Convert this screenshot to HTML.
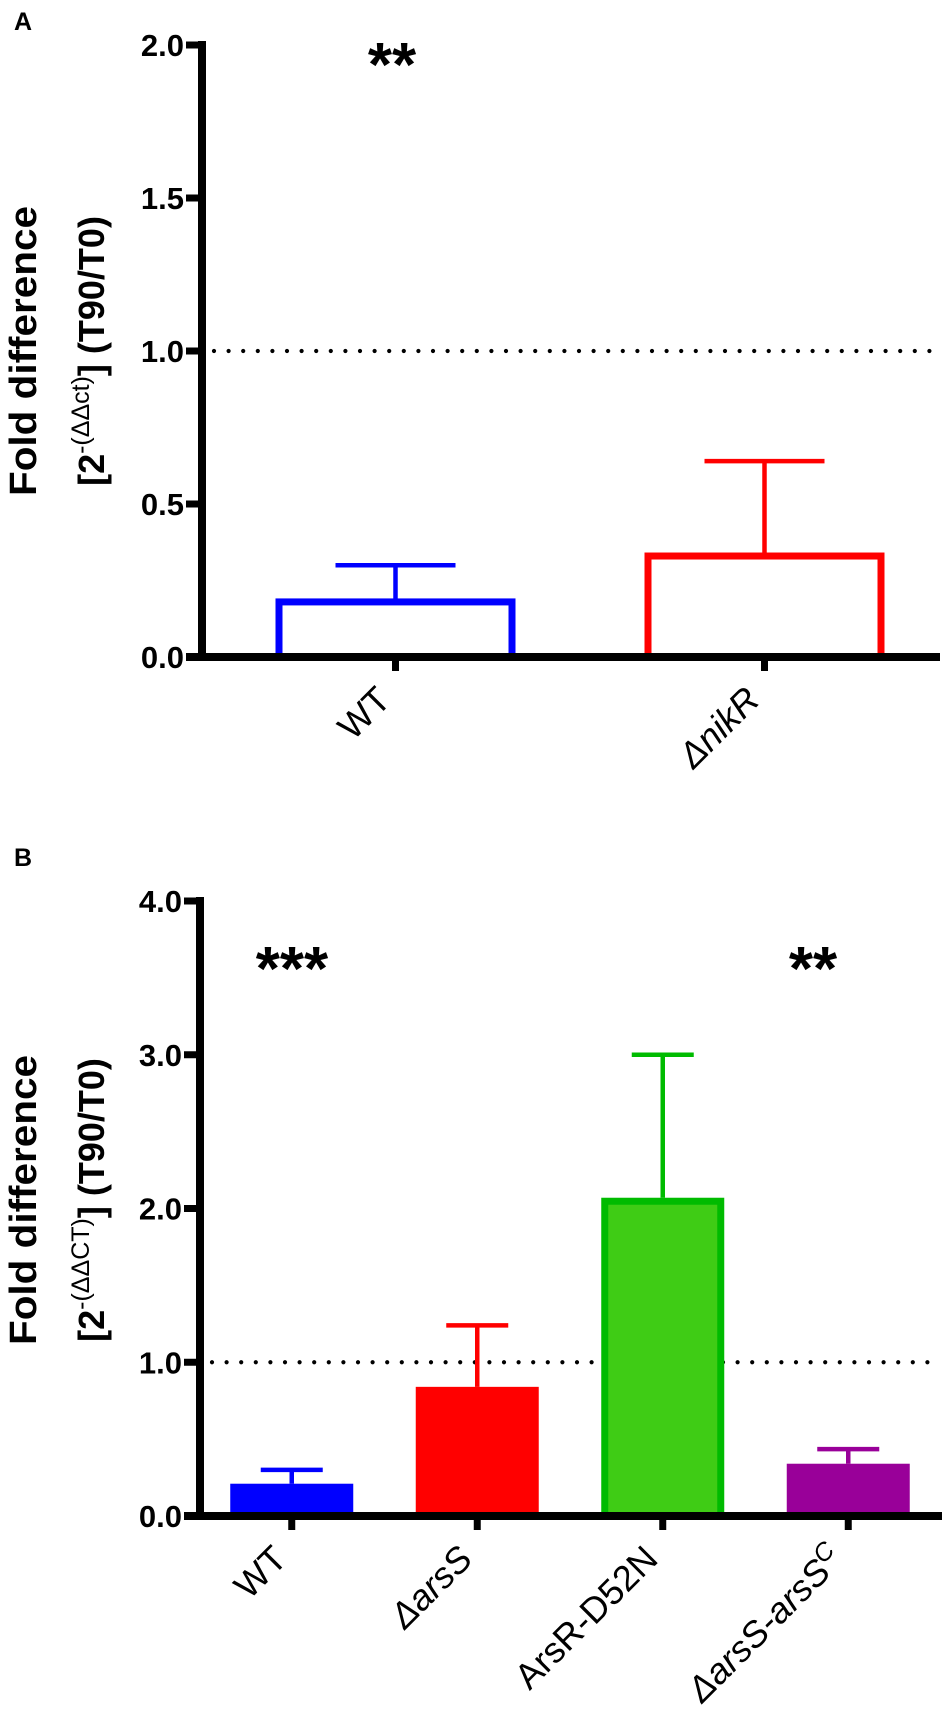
<!DOCTYPE html>
<html><head><meta charset="utf-8"><style>
html,body{margin:0;padding:0;background:#fff}
svg{display:block;font-family:"Liberation Sans",Arial,sans-serif}
</style></head><body>
<svg id="chart" width="945" height="1713" viewBox="0 0 945 1713" xmlns="http://www.w3.org/2000/svg">
<g id="gA"></g>
<g id="gB"></g>
</svg>
<script>
// Panel A data
const catsA = ["WT", "ΔnikR"];
const valsA = [0.18, 0.33];
const errsA = [0.30, 0.64];
const ticksA = [0, 0.5, 1.0, 1.5, 2.0];
const tickLabelsA = ["0.0", "0.5", "1.0", "1.5", "2.0"];
const refA = 1.0;
// Panel B data
const catsB = ["WT", "ΔarsS", "ArsR-D52N", "ΔarsS-arsSC"];
const valsB = [0.21, 0.84, 2.07, 0.34];
const errsB = [0.30, 1.24, 3.00, 0.435];
const ticksB = [0, 1, 2, 3, 4];
const tickLabelsB = ["0.0", "1.0", "2.0", "3.0", "4.0"];
const refB = 1.0;

const NS = "http://www.w3.org/2000/svg";
function mk(parent, tag, attrs, text) {
  const e = document.createElementNS(NS, tag);
  for (const k in attrs) e.setAttribute(k, attrs[k]);
  if (text !== undefined) e.textContent = text;
  parent.appendChild(e);
  return e;
}
const gA = document.getElementById("gA");
const gB = document.getElementById("gB");

function drawPanel(g, o) {
  const y = v => o.y0 - (v - 0) * (o.y0 - o.yTop) / o.vmax;
  const n = o.cats.length;
  const bandW = (o.xEnd - o.axisX) / n;
  const cx = i => o.axisX + bandW * (i + 0.5) + o.shift;
  const rl = mk(g, "line", {x1: o.axisX + 12, x2: o.xEnd, y1: y(o.ref), y2: y(o.ref), stroke: "#000", "stroke-width": 4.2, "stroke-linecap": "round", "stroke-dasharray": "0 14.6"});
  
  
  o.vals.forEach((v, i) => {
    const c = cx(i), hw = o.barW / 2, col = o.colors[i];
    const ecol = (o.strokes && o.strokes[i]) ? o.strokes[i] : col;
    const ev = mk(g, "line", {x1: c, x2: c, y1: y(v), y2: y(o.errs[i]), stroke: ecol, "stroke-width": 4.5});
    
    
    const ec = mk(g, "line", {x1: c - o.capW, x2: c + o.capW, y1: y(o.errs[i]), y2: y(o.errs[i]), stroke: ecol, "stroke-width": 4.5});
    
    
    let r;
    if (o.outline) {
      r = mk(g, "rect", {x: c - hw + 3.5, y: y(v), width: o.barW - 7, height: o.y0 - y(v), fill: "#fff", stroke: col, "stroke-width": 7});
    } else {
      const sw = o.strokes[i] ? 7 : 0;
      r = mk(g, "rect", {x: c - hw + sw / 2, y: y(v) + sw / 2, width: o.barW - sw, height: o.y0 - y(v) - sw / 2, fill: col, stroke: o.strokes[i] || "none", "stroke-width": sw});
    }
    
    
    const t = mk(g, "line", {x1: c, x2: c, y1: o.y0, y2: o.y0 + 14, stroke: "#000", "stroke-width": 7});
    
    
    const lx = c - 3, ly = o.y0 + 45;
    const tx = mk(g, "text", {x: lx, y: ly, "text-anchor": "end", "font-size": o.labelSize, transform: "rotate(-45 " + lx + " " + ly + ")"});
    
    
    const lab = o.cats[i];
    if (lab === "ArsR-D52N" || lab === "WT") { tx.textContent = lab; }
    else if (lab === "ΔarsS-arsSC") {
      mk(tx, "tspan", {"font-style": "italic"}, "ΔarsS-arsS");
      mk(tx, "tspan", {"font-style": "italic", "font-size": o.labelSize * 0.7, dy: -13}, "C");
    } else { tx.setAttribute("font-style", "italic"); tx.textContent = lab; }
  });
  const ya = mk(g, "line", {x1: o.axisX, x2: o.axisX, y1: o.yTop - 4, y2: o.y0 + 4, stroke: "#000", "stroke-width": 8});
  
  
  const xa = mk(g, "line", {x1: o.axisX - 16, x2: o.xEnd, y1: o.y0, y2: o.y0, stroke: "#000", "stroke-width": 8});
  
  
  o.ticks.forEach((tv, i) => {
    const tl = mk(g, "line", {x1: o.axisX - 16, x2: o.axisX, y1: y(tv), y2: y(tv), stroke: "#000", "stroke-width": 7});
    
    
    const tt = mk(g, "text", {x: o.axisX - 18, y: y(tv) + 11, "text-anchor": "end", "font-size": 31, "font-weight": "bold"}, o.tickLabels[i]);
    
    
  });
  const tcy = o.titleY;
  const t1 = mk(g, "text", {x: 0, y: 0, "text-anchor": "middle", "font-size": 38, "font-weight": "bold", transform: "translate(36 " + tcy + ") rotate(-90)", textLength: 290, lengthAdjust: "spacingAndGlyphs"}, "Fold difference");
  
  
  const t2 = mk(g, "text", {x: 0, y: 0, "text-anchor": "middle", "font-size": 36, "font-weight": "bold", transform: "translate(104 " + tcy + ") rotate(-90)"});
  
  
  mk(t2, "tspan", {}, "[2");
  mk(t2, "tspan", {dy: -15, "font-size": 25, "font-weight": "normal"}, "-(" + o.sup + ")");
  mk(t2, "tspan", {dy: 15}, "] (T90/T0)");
  o.stars.forEach(s => {
    const st = mk(g, "text", {x: s[0], y: s[1], "text-anchor": "middle", "font-size": 62, "font-weight": "bold"}, s[2]);
    
    
  });
  const pl = mk(g, "text", {x: 14, y: o.letterY, "font-size": 25, "font-weight": "bold"}, o.letter);
  
  
}

drawPanel(gA, {cats: catsA, vals: valsA, errs: errsA, ticks: ticksA, tickLabels: tickLabelsA, ref: refA,
  y0: 657, yTop: 45, vmax: 2.0, axisX: 202, xEnd: 940, shift: 9, barW: 240, capW: 60, outline: true,
  colors: ["#0000ff", "#ff0000"], labelSize: 36, titleY: 351, sup: "ΔΔct", stars: [[392, 86, "**"]], letter: "A", letterY: 30});
drawPanel(gB, {cats: catsB, vals: valsB, errs: errsB, ticks: ticksB, tickLabels: tickLabelsB, ref: refB,
  y0: 1516, yTop: 901, vmax: 4.0, axisX: 200, xEnd: 942, shift: -1, barW: 123, capW: 31, outline: false,
  colors: ["#0000ff", "#ff0000", "#3fcc15", "#990099"], strokes: [null, null, "#00bb00", null], labelSize: 36,
  titleY: 1200, sup: "ΔΔCT", stars: [[292, 990, "***"], [813, 990, "**"]], letter: "B", letterY: 866});
</script>
</body></html>
